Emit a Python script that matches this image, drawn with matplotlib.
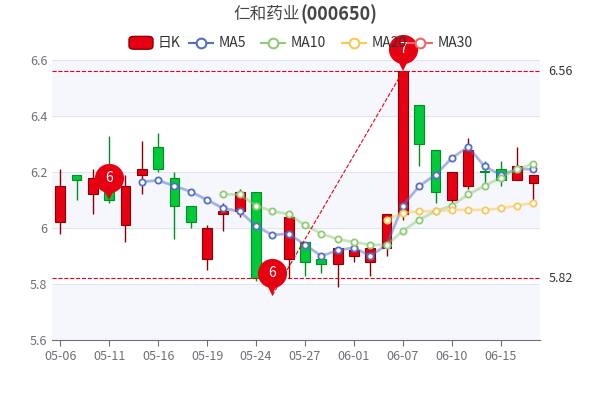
import numpy as np
import matplotlib.pyplot as plt
from matplotlib.patches import Rectangle, FancyBboxPatch

plt.rcParams['font.family'] = ['Noto Sans CJK SC', 'DejaVu Sans']

dates = ['05-06', '05-09', '05-10', '05-11', '05-12', '05-13', '05-16', '05-17', '05-18', '05-19',
         '05-20', '05-23', '05-24', '05-25', '05-26', '05-27', '05-30', '05-31', '06-01', '06-02',
         '06-06', '06-07', '06-08', '06-09', '06-10', '06-13', '06-14', '06-15', '06-16', '06-17']
opens = [6.02, 6.19, 6.12, 6.13, 6.01, 6.19, 6.29, 6.18, 6.08, 5.89,
         6.05, 6.06, 6.13, 5.85, 5.89, 5.95, 5.89, 5.87, 5.90, 5.88,
         5.93, 6.05, 6.44, 6.28, 6.10, 6.15, 6.201, 6.21, 6.17, 6.16]
closes = [6.15, 6.17, 6.18, 6.10, 6.15, 6.21, 6.21, 6.08, 6.02, 6.00,
          6.06, 6.13, 5.82, 5.84, 6.04, 5.88, 5.87, 5.93, 5.92, 5.93,
          6.05, 6.56, 6.30, 6.13, 6.20, 6.28, 6.199, 6.17, 6.22, 6.19]
highs = [6.21, 6.19, 6.21, 6.33, 6.19, 6.31, 6.34, 6.20, 6.08, 6.01,
         6.09, 6.14, 6.13, 5.88, 6.05, 5.95, 5.90, 5.93, 5.94, 5.93,
         6.05, 6.56, 6.44, 6.28, 6.20, 6.32, 6.24, 6.24, 6.29, 6.19]
lows = [5.98, 6.10, 6.05, 6.09, 5.95, 6.12, 6.20, 5.96, 6.00, 5.85,
        5.99, 6.04, 5.81, 5.76, 5.82, 5.83, 5.84, 5.79, 5.88, 5.83,
        5.90, 6.03, 6.22, 6.09, 6.08, 6.14, 6.14, 6.15, 6.17, 6.10]
ma5 = [None] * 5 + [6.165, 6.17, 6.15, 6.13, 6.10, 6.07, 6.06, 6.007, 5.975, 5.98,
                    5.94, 5.90, 5.92, 5.93, 5.90, 5.94, 6.08, 6.15, 6.19, 6.25,
                    6.29, 6.22, 6.19, 6.21, 6.21]
ma10 = [None] * 10 + [6.12, 6.12, 6.08, 6.06, 6.05, 6.01, 5.98, 5.96, 5.95, 5.94,
                      5.94, 5.99, 6.03, 6.06, 6.08, 6.12, 6.15, 6.18, 6.21, 6.23]
ma20 = [None] * 20 + [6.03, 6.054, 6.06, 6.06, 6.065, 6.065, 6.065, 6.07, 6.08, 6.09]

RED, GREEN = '#e60012', '#00c93a'
fig = plt.figure(figsize=(6, 4), dpi=100)
ax = fig.add_axes([0.087, 0.15, 0.813, 0.70])
x = np.arange(len(dates))

# bands
for lo in [5.6, 5.8, 6.0, 6.2, 6.4]:
    ax.axhspan(lo, lo + 0.2, color='#f5f7fc' if int(round(lo * 10)) % 4 == 0 else 'white', zorder=0)
for v in [5.8, 6.0, 6.2, 6.4, 6.6]:
    ax.axhline(v, color='#e0e6f1', lw=0.8, zorder=0.5)

for i in x:
    up = closes[i] >= opens[i]
    c = RED if up else GREEN
    ec = '#8b0000' if up else '#008f20'
    ax.vlines(i, lows[i], highs[i], color=ec, lw=1, zorder=2)
    b = min(opens[i], closes[i])
    h = max(abs(closes[i] - opens[i]), 0.004)
    ax.add_patch(Rectangle((i - 0.3, b), 0.6, h, fc=c, ec=ec, lw=0.8, zorder=3))

def ma_line(vals, color):
    xs = [i for i, v in enumerate(vals) if v is not None]
    ys = [v for v in vals if v is not None]
    ax.plot(xs, ys, color=color, alpha=0.5, lw=2, zorder=4)
    ax.plot(xs, ys, 'o', ms=4.5, mfc='white', mec=color, mew=1.3, zorder=5)

ma_line(ma5, '#5470c6')
ma_line(ma10, '#91cc75')
ma_line(ma20, '#fac858')

ax.axhline(6.56, color=RED, ls='--', lw=0.8, zorder=6)
ax.axhline(5.82, color=RED, ls='--', lw=0.8, zorder=6)
ax.text(29.9, 6.56, '6.56', va='center', fontsize=9, color='#333333', clip_on=False)
ax.text(29.9, 5.82, '5.82', va='center', fontsize=9, color='#333333', clip_on=False)
ax.plot([13, 21], [5.76, 6.56], color=RED, ls='--', lw=0.8, zorder=6)

def pin(i, y, label):
    ax.plot(i, y + 0.035, marker='v', ms=14, color=RED, mew=0, zorder=7, clip_on=False)
    ax.plot(i, y + 0.08, marker='o', ms=21, color=RED, mew=0, zorder=7, clip_on=False)
    ax.text(i, y + 0.08, label, color='white', ha='center', va='center', fontsize=10, zorder=8)

pin(3, 6.10, '6')
pin(13, 5.76, '6')
pin(21, 6.56, '7')

ax.set_xlim(-0.49, 29.4)
ax.set_ylim(5.6, 6.6)
ax.set_yticks([5.6, 5.8, 6.0, 6.2, 6.4, 6.6])
ax.set_yticklabels(['5.6', '5.8', '6', '6.2', '6.4', '6.6'])
ax.set_xticks(x[::3])
ax.set_xticklabels(dates[::3])
ax.tick_params(colors='#6e7079', labelsize=9, length=4)
ax.tick_params(axis='y', length=0)
for s in ['top', 'right', 'left']:
    ax.spines[s].set_visible(False)
ax.spines['bottom'].set_color('#6e7079')

fig.text(0.5, 0.965, '仁和药业', ha='right', va='center', fontsize=12, color='#464646')
fig.text(0.5, 0.965, '(000650)', ha='left', va='center', fontsize=13, weight='bold', color='#464646')

# legend
ly = 0.893
fig.patches.append(FancyBboxPatch((0.215, ly - 0.016), 0.04, 0.032, boxstyle='round,pad=0,rounding_size=0.008',
                                  fc=RED, ec='#8b0000', lw=1, transform=fig.transFigure))
fig.text(0.262, ly, '日K', va='center', fontsize=10, color='#333333')
for xx, col, lab in [(0.345, '#5470c6', 'MA5'), (0.465, '#91cc75', 'MA10'),
                     (0.6, '#fac858', 'MA20'), (0.71, '#ee6666', 'MA30')]:
    fig.lines.append(plt.Line2D([xx - 0.03, xx + 0.01], [ly, ly], color=col, lw=1.5,
                                transform=fig.transFigure))
    fig.lines.append(plt.Line2D([xx - 0.01], [ly], marker='o', ms=7, mfc='white', mec=col, mew=1.5,
                                transform=fig.transFigure))
    fig.text(xx + 0.02, ly, lab, va='center', fontsize=10, color='#333333')

fig.savefig('out.png')
